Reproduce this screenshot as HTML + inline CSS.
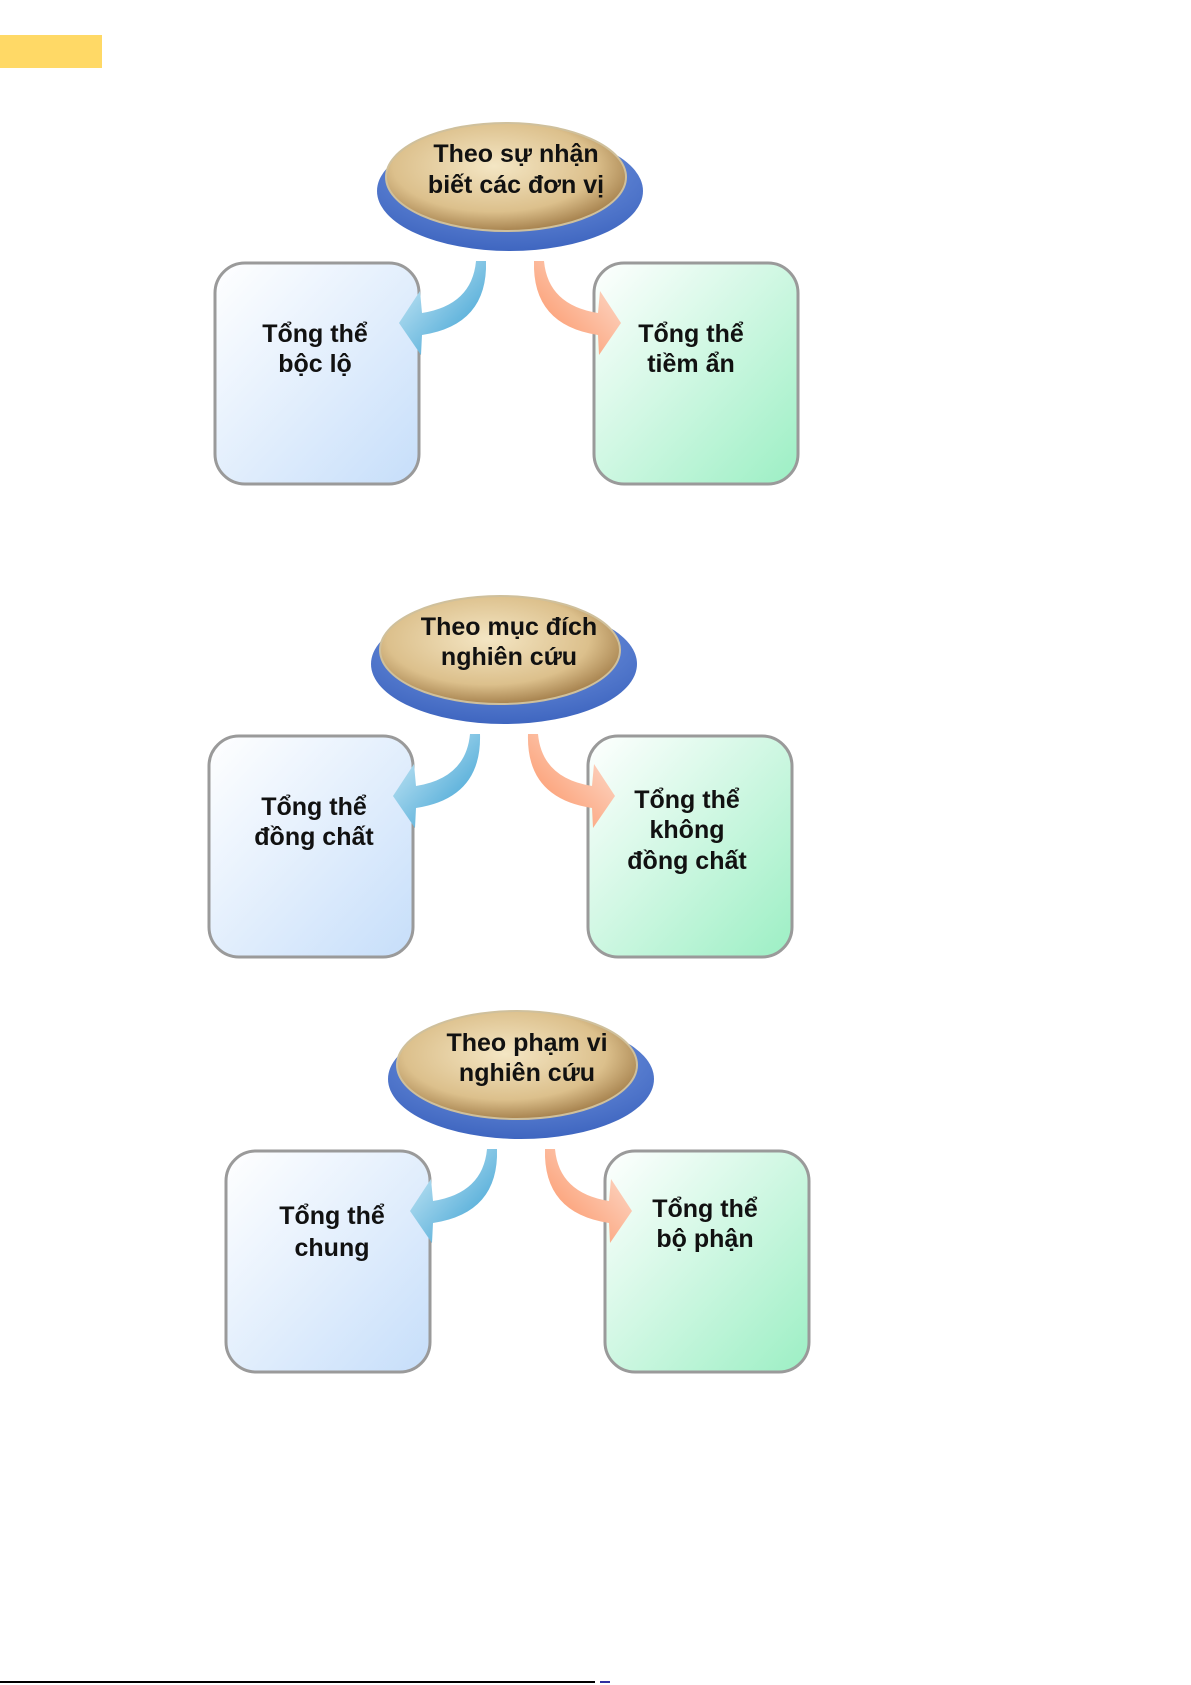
<!DOCTYPE html>
<html><head><meta charset="utf-8"><style>
html,body{margin:0;padding:0;background:#fff;width:1191px;height:1685px;overflow:hidden}
svg{display:block}
text{font-family:"Liberation Sans",sans-serif;font-weight:bold;font-size:25px;fill:#111;text-anchor:middle}
</style></head><body>
<svg width="1191" height="1685" viewBox="0 0 1191 1685" xmlns="http://www.w3.org/2000/svg">
<defs>
<radialGradient id="tan" cx="0.45" cy="0.4" r="0.6">
<stop offset="0" stop-color="#f4e6c4"/><stop offset="0.7" stop-color="#dcc08c"/><stop offset="1" stop-color="#a88450"/></radialGradient>
<radialGradient id="blu" cx="0.5" cy="0.3" r="0.7">
<stop offset="0" stop-color="#7fa2e8"/><stop offset="1" stop-color="#3f66c0"/></radialGradient>
<linearGradient id="lb" x1="0" y1="0" x2="1" y2="1"><stop offset="0" stop-color="#fff"/><stop offset="1" stop-color="#c6defa"/></linearGradient>
<linearGradient id="lg" x1="0" y1="0" x2="1" y2="1"><stop offset="0" stop-color="#fff"/><stop offset="1" stop-color="#9cefc4"/></linearGradient>
<linearGradient id="ab" x1="0" y1="0" x2="1" y2="1"><stop offset="0" stop-color="#d4eef8"/><stop offset="1" stop-color="#2e9ad0"/></linearGradient>
<linearGradient id="ao" x1="0" y1="0" x2="1" y2="1"><stop offset="0" stop-color="#fde4d8"/><stop offset="1" stop-color="#fb8c5a"/></linearGradient>
<g id="base">
<rect x="-295" y="80" width="204" height="221" rx="30" fill="url(#lb)" stroke="#9a9a9a" stroke-width="3"/>
<rect x="84" y="80" width="204" height="221" rx="30" fill="url(#lg)" stroke="#9a9a9a" stroke-width="3"/>
<ellipse cx="0" cy="8" rx="133" ry="60" fill="url(#blu)"/>
<ellipse cx="-4" cy="-6" rx="120" ry="54" fill="url(#tan)" stroke="#cfc09c" stroke-width="2"/>
<path d="M-34,78 Q-38,122 -88,130 L-90,108 L-111,140 L-89,172 L-88,152 Q-22,142 -24,78 Z" fill="url(#ab)"/>
<path transform="scale(-1,1)" d="M-34,78 Q-38,122 -88,130 L-90,108 L-111,140 L-89,172 L-88,152 Q-22,142 -24,78 Z" fill="url(#ao)"/>
</g>
</defs>
<rect x="0" y="35" width="102" height="33" fill="#ffd966"/>

<g transform="translate(510,183)">
<use href="#base"/>
<text x="6" y="-21">Theo sự nhận</text><text x="6" y="10">biết các đơn vị</text>
<text x="-195" y="159">Tổng thể</text><text x="-195" y="189">bộc lộ</text>
<text x="181" y="159">Tổng thể</text><text x="181" y="189">tiềm ẩn</text>
</g>

<g transform="translate(504,656)">
<use href="#base"/>
<text x="5" y="-21">Theo mục đích</text><text x="5" y="9">nghiên cứu</text>
<text x="-190" y="159">Tổng thể</text><text x="-190" y="189">đồng chất</text>
<text x="183" y="152">Tổng thể</text><text x="183" y="182">không</text><text x="183" y="213">đồng chất</text>
</g>

<g transform="translate(521,1071)">
<use href="#base"/>
<text x="6" y="-20">Theo phạm vi</text><text x="6" y="10">nghiên cứu</text>
<text x="-189" y="153">Tổng thể</text><text x="-189" y="185">chung</text>
<text x="184" y="146">Tổng thể</text><text x="184" y="176">bộ phận</text>
</g>

<rect x="0" y="1681" width="595" height="2" fill="#000"/>
<rect x="600" y="1681" width="10" height="2" fill="#3030a0"/>
</svg>
</body></html>
